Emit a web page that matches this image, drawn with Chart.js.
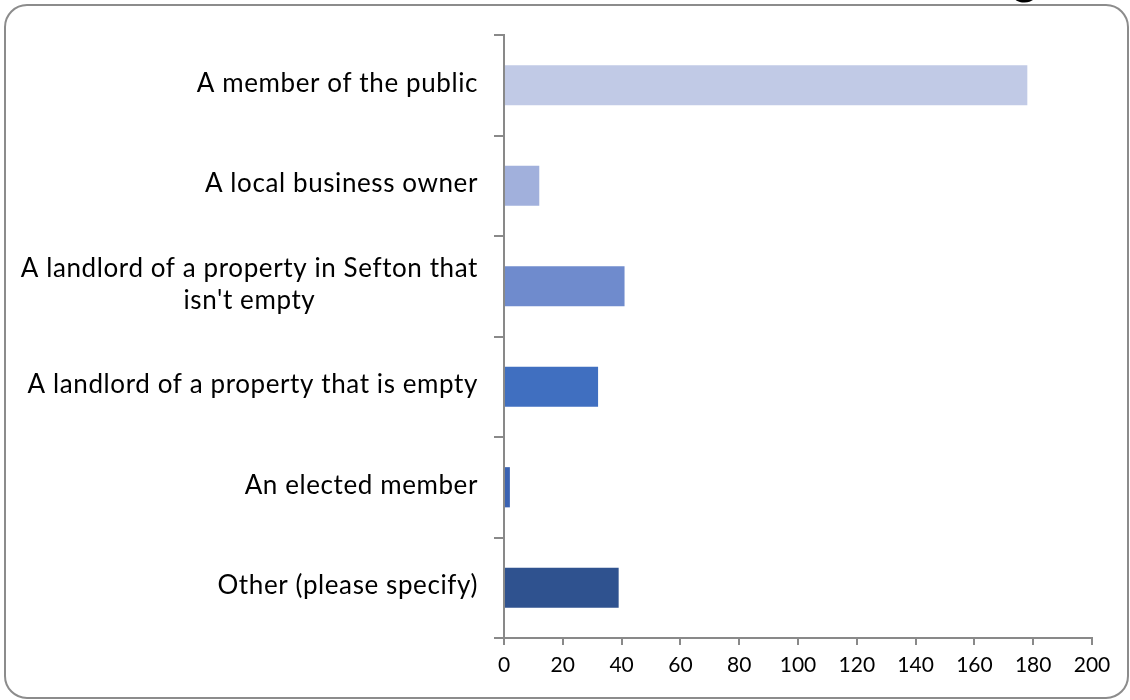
<!DOCTYPE html>
<html>
<head>
<meta charset="utf-8">
<script src="https://cdn.jsdelivr.net/npm/chart.js@4/dist/chart.umd.min.js"></script>
<style>
  html, body { margin: 0; padding: 0; background: #ffffff; }
  #wrap { width: 1130px; height: 700px; position: relative; }
</style>
</head>
<body>
<div id="wrap"><canvas id="chart" width="1130" height="700"></canvas></div>
<script>
// Respondent types and counts
const categories = [
  'A member of the public',
  'A local business owner',
  ['A landlord of a property in Sefton that', "isn't empty"],
  'A landlord of a property that is empty',
  'An elected member',
  'Other (please specify)'
];
const responses = [178, 12, 41, 32, 2, 39];
const barColors = ['#c1cae6', '#a1b0dc', '#6f8bcd', '#406fc0', '#3a62b2', '#2f528f'];
const xTicks = [0, 20, 40, 60, 80, 100, 120, 140, 160, 180, 200];

const labelFont = '26px Lato, "Open Sans", sans-serif';
const axisGrey = '#898989';

// Rounded outer frame plus the tail of the heading above it
const framePlugin = {
  id: 'frame',
  beforeDraw(chart) {
    const ctx = chart.ctx;
    ctx.save();
    ctx.fillStyle = '#ffffff';
    ctx.fillRect(0, 0, chart.width, chart.height);
    const x = 5, y = 5, w = 1123, h = 693, r = 22;
    ctx.beginPath();
    ctx.moveTo(x + r, y);
    ctx.lineTo(x + w - r, y);
    ctx.arcTo(x + w, y, x + w, y + r, r);
    ctx.lineTo(x + w, y + h - r);
    ctx.arcTo(x + w, y + h, x + w - r, y + h, r);
    ctx.lineTo(x + r, y + h);
    ctx.arcTo(x, y + h, x, y + h - r, r);
    ctx.lineTo(x, y + r);
    ctx.arcTo(x, y, x + r, y, r);
    ctx.closePath();
    ctx.strokeStyle = '#8c8c8c';
    ctx.lineWidth = 2;
    ctx.stroke();
    ctx.fillStyle = '#000000';
    ctx.font = '50px Lato, "Open Sans", sans-serif';
    ctx.textAlign = 'left';
    ctx.textBaseline = 'alphabetic';
    ctx.fillText('g', 1012, -7);
    ctx.restore();
  }
};

// Category labels: right-aligned blocks, wrapped lines centred within a block
const categoryLabels = {
  id: 'categoryLabels',
  afterDraw(chart) {
    const ctx = chart.ctx;
    const scale = chart.scales.y;
    const right = scale.right - 26;
    const lineH = 32;
    ctx.save();
    ctx.font = labelFont;
    ctx.letterSpacing = '0.6px';
    ctx.fillStyle = '#000000';
    ctx.textBaseline = 'middle';
    ctx.textAlign = 'center';
    categories.forEach((lab, i) => {
      const lines = Array.isArray(lab) ? lab : [lab];
      const yc = scale.getPixelForTick(i);
      const bw = Math.max(...lines.map(l => ctx.measureText(l).width));
      const cx = right - bw / 2;
      const y0 = yc - (lines.length - 1) * lineH / 2 - 2;
      lines.forEach((l, k) => ctx.fillText(l, cx, y0 + k * lineH));
    });
    ctx.restore();
  }
};

new Chart(document.getElementById('chart'), {
  type: 'bar',
  data: {
    labels: categories,
    datasets: [{
      data: responses,
      backgroundColor: barColors,
      borderWidth: 0,
      barPercentage: 0.4,
      categoryPercentage: 1.0
    }]
  },
  options: {
    indexAxis: 'y',
    responsive: false,
    animation: false,
    layout: { padding: { top: 35, right: 38, bottom: 0, left: 0 } },
    plugins: {
      legend: { display: false },
      tooltip: { enabled: false },
      title: { display: false }
    },
    scales: {
      y: {
        offset: true,
        afterFit(scale) { scale.width = 504; },
        border: { display: true, color: axisGrey, width: 2 },
        grid: {
          offset: true,
          drawOnChartArea: false,
          drawTicks: true,
          tickLength: 10,
          color: axisGrey,
          lineWidth: 2
        },
        ticks: { display: false }
      },
      x: {
        min: 0,
        max: 200,
        afterFit(scale) { scale.height = 62; },
        afterBuildTicks(scale) { scale.ticks = xTicks.map(v => ({ value: v })); },
        border: { display: true, color: axisGrey, width: 2 },
        grid: {
          drawOnChartArea: false,
          drawTicks: true,
          tickLength: 7,
          color: axisGrey,
          lineWidth: 2
        },
        ticks: {
          color: '#000000',
          font: { family: 'Lato, "Open Sans", sans-serif', size: 21 },
          padding: 8,
          maxRotation: 0,
          autoSkip: false
        }
      }
    }
  },
  plugins: [framePlugin, categoryLabels]
});
</script>
</body>
</html>
